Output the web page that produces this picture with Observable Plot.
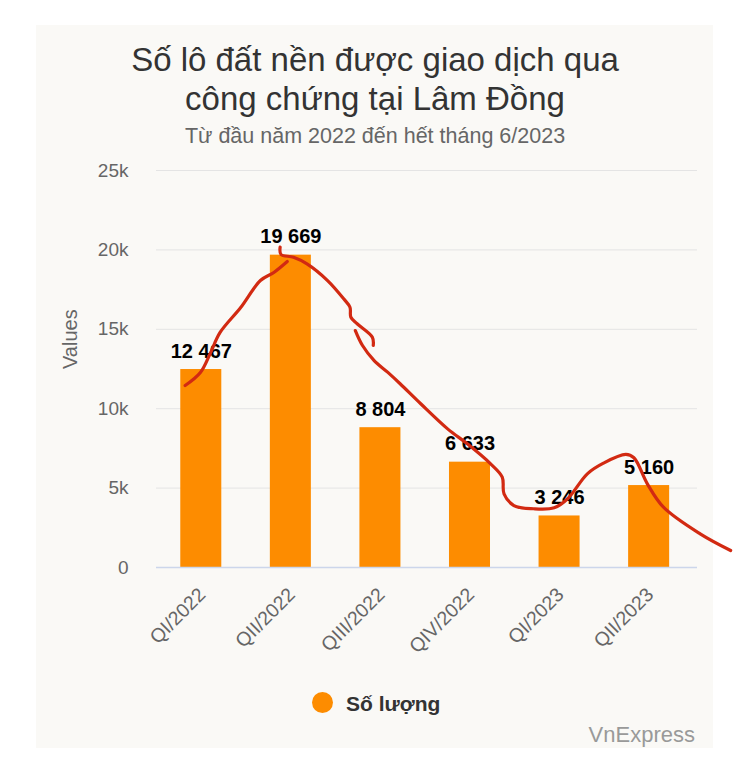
<!DOCTYPE html>
<html>
<head>
<meta charset="utf-8">
<script src="https://cdn.jsdelivr.net/npm/d3@7"></script>
<script src="https://cdn.jsdelivr.net/npm/@observablehq/plot@0.6"></script>
<style>
  html, body { margin: 0; padding: 0; background: #ffffff; }
  body { width: 750px; height: 761px; position: relative; overflow: hidden;
         font-family: "Liberation Sans", Arial, Helvetica, sans-serif; }
  #panel { position: absolute; left: 36px; top: 25px; width: 677px; height: 723px; background: #faf9f6; }
  #title { position: absolute; left: 0; top: 40px; width: 750px; text-align: center;
           font-size: 33px; line-height: 39px; color: #333333; }
  #subtitle { position: absolute; left: 0; top: 124px; width: 750px; text-align: center;
              font-size: 21.5px; line-height: 25px; color: #666666; }
  #chart { position: absolute; left: 0; top: 150px; }
  #legend-dot { position: absolute; left: 312px; top: 692px; width: 21px; height: 21px; border-radius: 50%; background: #fd8c00; }
  #legend-text { position: absolute; left: 346px; top: 692px; font-size: 21px; line-height: 23px; font-weight: bold; color: #333333; }
  #credit { position: absolute; right: 55px; top: 723px; font-size: 22px; line-height: 24px; color: #999999; }
</style>
</head>
<body>
<div id="panel"></div>
<div id="title">Số lô đất nền được giao dịch qua<br>công chứng tại Lâm Đồng</div>
<div id="subtitle">Từ đầu năm 2022 đến hết tháng 6/2023</div>
<div id="chart"></div>
<div id="legend-dot"></div>
<div id="legend-text">Số lượng</div>
<div id="credit">VnExpress</div>
<script>
// ---- data ----
const categories = ["QI/2022", "QII/2022", "QIII/2022", "QIV/2022", "QI/2023", "QII/2023"];
const values = [12467, 19669, 8804, 6633, 3246, 5160];
const yTicks = [0, 5000, 10000, 15000, 20000, 25000];
const yTickLabels = ["0", "5k", "10k", "15k", "20k", "25k"];
const seriesName = "Số lượng";
const yLabel = "Values";

// hand-drawn red annotation strokes: [category position, value]
const redStroke1 = [[-0.18, 11460], [-0.01, 12280], [0.10, 13480], [0.21, 14800], [0.44, 16370], [0.66, 18070], [0.81, 18580], [0.96, 19270]];
const redStroke2 = [[0.88, 20170], [0.89, 19710], [1.03, 19540], [1.18, 19120], [1.41, 18070], [1.59, 16920], [1.66, 16390], [1.67, 15760], [1.74, 15350], [1.91, 14500], [1.92, 13980]];
const redStroke3 = [[1.72, 14920], [1.80, 13980], [1.93, 13030], [2.08, 12300], [2.22, 11570], [2.45, 10310], [2.75, 8730], [2.97, 7790], [3.23, 6530], [3.36, 5690], [3.38, 4640], [3.49, 3900], [3.71, 3700], [3.94, 3760], [4.09, 4330], [4.31, 5900], [4.49, 6570], [4.74, 7120], [4.83, 6910], [4.98, 5270], [5.16, 3800], [5.57, 2120], [5.91, 1070]];

// ---- build ----
const bars = categories.map((c, i) => ({i, c, v: values[i]}));
const fmt = v => d3.format(",")(v).replace(/,/g, " ");
const red = [
  ...redStroke1.map(([x, y]) => ({x, y, s: 1})),
  ...redStroke2.map(([x, y]) => ({x, y, s: 2})),
  ...redStroke3.map(([x, y]) => ({x, y, s: 3}))
];
const halfBar = 0.229;
const barColor = "#fd8c00";

const chart = Plot.plot({
  width: 750,
  height: 510,
  marginTop: 20,
  marginBottom: 93,
  marginLeft: 156,
  marginRight: 53,
  style: {background: "transparent", overflow: "visible", fontFamily: "'Liberation Sans', Arial, Helvetica, sans-serif"},
  x: {domain: [-0.5, 5.54], axis: null},
  y: {domain: [0, 25000], axis: null},
  marks: [
    Plot.gridY(yTicks.slice(1), {stroke: "#e4e4e4", strokeOpacity: 1, strokeWidth: 1}),
    Plot.axisY(yTicks, {tickSize: 0, tickPadding: 28, tickFormat: (d) => yTickLabels[yTicks.indexOf(d)],
      fontSize: 19, fill: "#666666", label: null}),
    Plot.text([yLabel], {frameAnchor: "left", dx: -86, rotate: -90, fontSize: 20, fill: "#666666"}),
    Plot.rectY(bars, {x1: d => d.i - halfBar, x2: d => d.i + halfBar, y1: 0, y2: "v", fill: barColor}),
    Plot.ruleY([0], {stroke: "#ccd6eb", strokeWidth: 1.5}),
    Plot.text(bars, {x: "i", y: 0, text: "c", dx: 1, dy: 24, rotate: -45, textAnchor: "end", lineAnchor: "middle",
      fontSize: 19.5, fill: "#666666"}),
    Plot.text(bars, {x: "i", y: "v", text: d => fmt(d.v), dy: -12, lineAnchor: "bottom",
      fontSize: 20, fontWeight: "bold", fill: "#000000"}),
    Plot.line(red, {x: "x", y: "y", z: "s", stroke: "#d22a12", strokeWidth: 3.2, curve: "catmull-rom",
      strokeLinecap: "round", strokeLinejoin: "round"})
  ]
});
document.getElementById("chart").appendChild(chart);
document.getElementById("legend-text").textContent = seriesName;
</script>
</body>
</html>
